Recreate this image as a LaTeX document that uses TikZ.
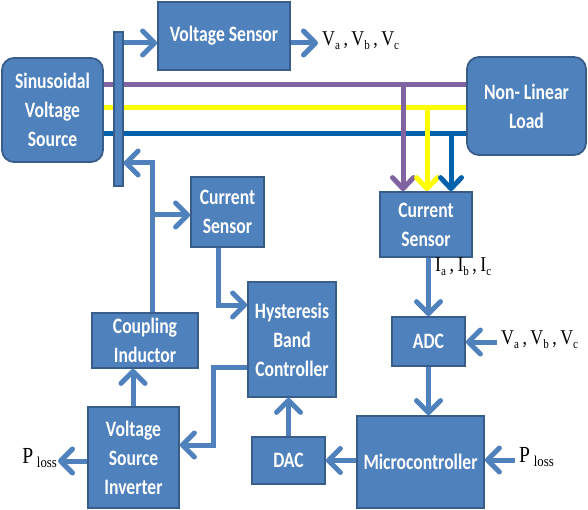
\documentclass[tikz,border=0pt]{standalone}
\usepackage{fontspec}
\setmainfont{Carlito}[FakeStretch=0.8]
\newfontfamily\lblfont{Liberation Serif}[FakeStretch=0.85]
\usetikzlibrary{arrows.meta}
\definecolor{boxblue}{HTML}{4F81BD}
\definecolor{boxedge}{HTML}{385D8A}
\definecolor{phA}{HTML}{8064A2}
\definecolor{phB}{HTML}{FFFF00}
\definecolor{phC}{HTML}{0062AC}
\newcommand{\lowsub}[1]{\raisebox{-4pt}{\fontsize{13}{13}\selectfont #1}}
\begin{document}
\begin{tikzpicture}[x=1pt,y=-1pt,
 blk/.style={draw=boxedge, line width=1.8pt, fill=boxblue, text=white,
   font=\fontsize{22}{29}\selectfont\bfseries, align=center, inner sep=0pt},
 arr/.style={draw=boxblue, line width=5pt, -{Straight Barb[length=12pt,width=24pt,round]}},
 parr/.style={line width=5pt, -{Straight Barb[length=11pt,width=21pt,round]}},
 phase/.style={line width=5pt},
 lbl/.style={font=\lblfont\fontsize{21}{21}\selectfont, inner sep=0pt}
]
\useasboundingbox (0,0) rectangle (588,510);

% blocks
\node[blk, rounded corners=12pt, minimum width=101pt, minimum height=104pt] (svs) at (52.5,110) {Sinusoidal\\Voltage\\Source};
\node[blk, rounded corners=12pt, minimum width=119pt, minimum height=98pt] (nll) at (526.5,106) {Non- Linear\\Load};
\node[blk, minimum width=132pt, minimum height=68pt] (vsens) at (224,36) {Voltage Sensor};
\node[blk, minimum width=92pt, minimum height=65pt] (csR) at (426,224.5) {Current\\Sensor};
\node[blk, minimum width=73pt, minimum height=49pt] (adc) at (428.5,341.5) {ADC};
\node[blk, minimum width=127pt, minimum height=92pt] (mc) at (420.5,462) {Microcontroller};
\node[blk, minimum width=73pt, minimum height=47pt] (dac) at (288.5,460.5) {DAC};
\node[blk, minimum width=88pt, minimum height=115pt] (hbc) at (292,339.5) {Hysteresis\\Band\\Controller};
\node[blk, minimum width=73pt, minimum height=70pt] (csL) at (227.5,212) {Current\\Sensor};
\node[blk, minimum width=106pt, minimum height=55pt] (ci) at (145,340.5) {Coupling\\Inductor};
\node[blk, minimum width=91pt, minimum height=101pt] (vsi) at (133.5,457.5) {Voltage\\Source\\Inverter};

% three phase lines
\coordinate (pA) at (403,85);
\coordinate (pB) at (427,108);
\coordinate (pC) at (451,134);
\draw[phase, phA] (svs.east |- pA) -- (nll.west |- pA);
\draw[phase, phB] (svs.east |- pB) -- (nll.west |- pB);
\draw[phase, phC] (svs.east |- pC) -- (nll.west |- pC);
\draw[parr, phA] (pA) -- (pA |- csR.north);
\draw[parr, phB] (pB) -- (pB |- csR.north);
\draw[parr, phC] (pC) -- (pC |- csR.north);

% bus bar
\node[draw=boxedge, line width=1.2pt, fill=boxblue, minimum width=9pt, minimum height=154pt, inner sep=0pt] (bar) at (118.5,109) {};

% connectors
\coordinate (yv) at (0,43);
\draw[arr] (bar.east |- yv) -- (vsens.west |- yv);
\coordinate (vo) at (318,43);
\draw[arr] (vsens.east |- vo) -- (vo);
\node[lbl, anchor=west] (vlab1) at (322,41) {V\lowsub{a}\,,\,V\lowsub{b}\,,\,V\lowsub{c}};

\coordinate (fb) at (152,163);
\draw[arr] (ci.north -| fb) |- (bar.east |- fb);
\coordinate (cb) at (152,215);
\draw[arr] (cb) -- (csL.west |- cb);
\coordinate (c2) at (218,305);
\draw[arr] (csL.south -| c2) |- (hbc.west |- c2);
\coordinate (h1) at (213,367);
\coordinate (h2) at (213,445);
\draw[arr] (hbc.west |- h1) -| (h2) -- (vsi.east |- h2);
\coordinate (v1) at (133,0);
\draw[arr] (vsi.north -| v1) -- (ci.south -| v1);
\coordinate (pl) at (58,461);
\draw[arr] (vsi.west |- pl) -- (pl);
\node[lbl, anchor=east] (plab1) at (57,458) {\fontsize{23}{23}\selectfont P\,\lowsub{\fontsize{15}{15}\selectfont loss}};

\draw[arr] (dac.north) -- (hbc.south -| dac.north);
\draw[arr] (mc.west |- dac.east) -- (dac.east);
\draw[arr] (csR.south -| adc.north) -- (adc.north);
\node[lbl, anchor=west] (ilab) at (435,267) {I\lowsub{a}\,,\,I\lowsub{b}\,,\,I\lowsub{c}};
\draw[arr] (adc.south) -- (adc.south |- mc.north);
\coordinate (vin) at (497,342);
\draw[arr] (vin) -- (adc.east |- vin);
\node[lbl, anchor=west] (vlab2) at (501,340) {V\lowsub{a}\,,\,V\lowsub{b}\,,\,V\lowsub{c}};
\coordinate (pin) at (515,460);
\draw[arr] (pin) -- (mc.east |- pin);
\node[lbl, anchor=west] (plab2) at (519,457) {\fontsize{23}{23}\selectfont P\,\lowsub{\fontsize{15}{15}\selectfont loss}};
\end{tikzpicture}
\end{document}
